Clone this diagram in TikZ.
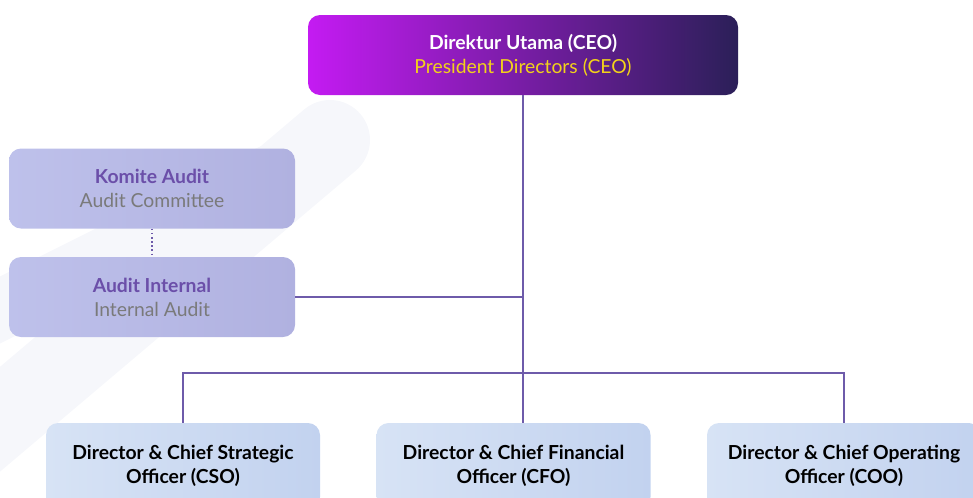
\documentclass[tikz,border=0pt]{standalone}
\usepackage{fontspec}
\setmainfont{Lato}
\usetikzlibrary{positioning}
\definecolor{linecol}{HTML}{6E5BAA}
\definecolor{ceoleft}{HTML}{C41BF2}
\definecolor{ceoright}{HTML}{2B1F58}
\definecolor{auditfill}{HTML}{BEC1EB}
\definecolor{auditdark}{HTML}{B0B1E0}
\definecolor{audittext}{HTML}{6B4FA9}
\definecolor{subgray}{HTML}{7A7A7A}
\definecolor{dirfill}{HTML}{D7E3F5}
\definecolor{dirdark}{HTML}{C2D2EF}
\definecolor{ceoyellow}{HTML}{F2D21A}
\definecolor{bgband}{HTML}{F6F7FB}

\begin{document}
\begin{tikzpicture}[x = 0.75pt, y = -0.75pt,
                        ceobox/.style = {rounded corners = 9pt, left color = ceoleft, right color = ceoright,
                                         minimum width = 322.5pt, minimum height = 60pt, align = center,
                                         font = \fontsize{14.5}{18}\selectfont},
                        auditbox/.style = {rounded corners = 9pt, left color = auditfill, right color = auditdark,
                                           minimum width = 214.5pt, minimum height = 60pt, align = center,
                                           font = \fontsize{14.5}{18}\selectfont},
                        dirbox/.style = {rounded corners = 9pt, left color = dirfill, right color = dirdark,
                                         minimum width = 205.5pt, minimum height = 64.5pt, align = center,
                                         font = \bfseries\fontsize{14.5}{18}\selectfont},
                        link/.style = {draw = linecol, line width = 1.1pt}]
    \useasboundingbox (0, 0) rectangle (973, 497);
    \clip (0, 0) rectangle (973, 497);
    % faint bands in the background
    \draw [bgband, line width = 60pt, line cap = round] (-60, 470) -- (330, 140);
    \draw [bgband, line width = 45pt, line cap = round] (-40, 330) -- (270, 175);
    \node [ceobox] (ceo) at (523, 55){\textcolor{white}{\bfseries Direktur Utama (CEO)}\\
                                       \textcolor{ceoyellow}{President Directors (CEO)}};
    \node [auditbox] (komite) at (152, 188.5){\textcolor{audittext}{\bfseries Komite Audit}\\
                                              \textcolor{subgray}{Audit Committee}};
    \node [auditbox] (internal) at (152, 297){\textcolor{audittext}{\bfseries Audit Internal}\\
                                              \textcolor{subgray}{Internal Audit}};
    \node [dirbox] (cso) at (183, 466){Director \& Chief Strategic\\Officer (CSO)};
    \node [dirbox] (cfo) at (513.5, 466){Director \& Chief Financial\\Officer (CFO)};
    \node [dirbox] (coo) at (844, 466){Director \& Chief Operating\\Officer (COO)};
    \coordinate (bus) at (523, 373);
    \draw [link] (ceo.south) -- (ceo.south |- cfo.north);
    \draw [link] (internal.east) -- (ceo.south |- internal.east);
    \draw [link] (cso.north) -- (cso.north |- bus) -- (coo.north |- bus) -- (coo.north);
    \draw [link, dotted, line width = 0.8pt] (komite.south) -- (internal.north);
  \end{tikzpicture}
\end{document}
